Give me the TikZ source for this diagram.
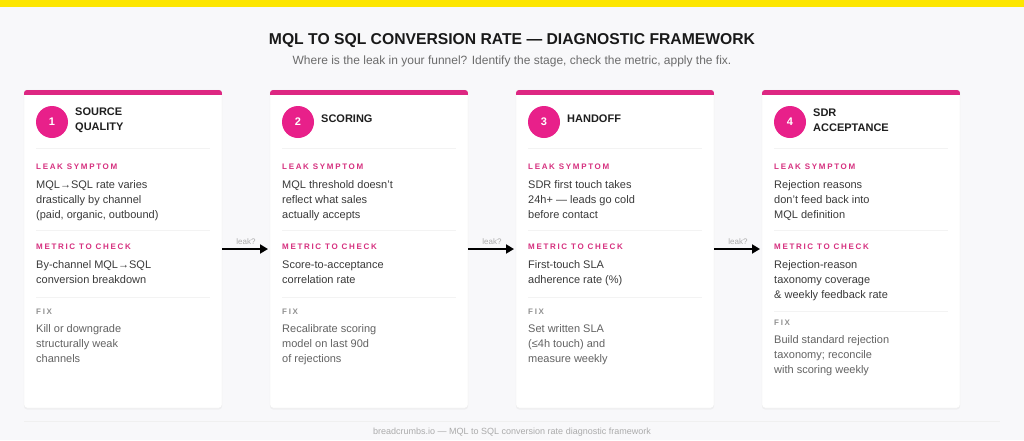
\documentclass[tikz,border=0pt]{standalone}
\usepackage{fontspec}
\setmainfont{Liberation Sans}
\usepackage{tikz}
\usetikzlibrary{arrows.meta}
\usetikzlibrary{shadows}

\definecolor{bandyellow}{HTML}{FDE600}
\definecolor{pagegrey}{HTML}{F8F8FA}
\definecolor{barpink}{HTML}{DD2782}
\definecolor{dotpink}{HTML}{E8208A}
\definecolor{labelpink}{HTML}{D6307F}
\definecolor{bodygrey}{HTML}{3A3A3A}
\definecolor{fixgrey}{HTML}{636363}
\definecolor{fixlabel}{HTML}{919191}
\definecolor{rulegrey}{HTML}{F3F3F3}
\definecolor{notegrey}{HTML}{ABABAB}

\tikzset{
    stagecard/.style={draw=black!7, fill=white, rounded corners=3pt,
        minimum width=198pt, minimum height=318pt, inner sep=0pt, outer sep=0pt,
        drop shadow={opacity=0.07, shadow xshift=0pt, shadow yshift=-1.5pt}},
    stagedot/.style={circle, fill=dotpink, minimum size=32pt, inner sep=0pt,
        text=white, font=\fontsize{11}{13}\selectfont\bfseries},
    stagetitle/.style={anchor=west, align=left, inner sep=0pt, text=black!88,
        font=\fontsize{11}{14.5}\selectfont\bfseries},
    sectlabel/.style={anchor=west, inner sep=0pt, text=labelpink,
        font=\fontsize{8}{10}\selectfont\bfseries\addfontfeature{LetterSpace=21}},
    fixhead/.style={sectlabel, text=fixlabel},
    sectbody/.style={anchor=north west, align=left, inner sep=0pt, text=bodygrey,
        font=\fontsize{11}{15}\selectfont},
    fixbody/.style={sectbody, text=fixgrey},
    sectrule/.style={draw=rulegrey, line width=0.8pt},
    leakarrow/.style={line width=1.8pt, shorten >=2pt, -{Triangle[length=8pt, width=9pt]}},
    leaktag/.style={above=4pt, inner sep=0pt, text=notegrey, font=\fontsize{8}{10}\selectfont},
}

\begin{document}
\begin{tikzpicture}[x=1pt, y=-1pt]
        \useasboundingbox[fill=pagegrey] (0, 0) rectangle (1024, 440);
        \fill[bandyellow] (0, 0) rectangle (1024, 7);

        \node[inner sep=0pt, text=black!90, font=\fontsize{15.7}{18}\selectfont\bfseries] (heading) at (512, 41)
            {MQL TO SQL CONVERSION RATE — DIAGNOSTIC FRAMEWORK};
        \node[inner sep=0pt, text=black!58, font=\fontsize{12}{14}\selectfont] (subheading) at (512, 61.5)
            {Where is the leak in your funnel? Identify the stage, check the metric, apply the fix.};

        % stage 1
        \begin{scope}[shift={(24, 90)}]
            \node[stagecard] (card1) at (99, 159) {};
            \begin{scope}
                \clip[rounded corners=3pt] (0, 0) rectangle (198, 318);
                \fill[barpink] (0, 0) rectangle (198, 5);
            \end{scope}
            \node[stagedot] (dot1) at (28, 32) {1};
            \node[stagetitle] (title1) at (51, 30) {SOURCE\\QUALITY};
            \draw[sectrule] (12, 58) -- (186, 58);
            \node[sectlabel] (leak1) at (12, 77) {LEAK SYMPTOM};
            \node[sectbody] (leaktext1) at (12, 87.5) {\strut MQL→SQL rate varies\\drastically by channel\\(paid, organic, outbound)};
            \draw[sectrule] (12, 140) -- (186, 140);
            \node[sectlabel] (metric1) at (12, 157) {METRIC TO CHECK};
            \node[sectbody] (metrictext1) at (12, 167.5) {\strut By-channel MQL→SQL\\conversion breakdown};
            \draw[sectrule] (12, 207) -- (186, 207);
            \node[fixhead] (fix1) at (12, 222) {FIX};
            \node[fixbody] (fixtext1) at (12, 231.5) {\strut Kill or downgrade\\structurally weak\\channels};
        \end{scope}

        % stage 2
        \begin{scope}[shift={(270, 90)}]
            \node[stagecard] (card2) at (99, 159) {};
            \begin{scope}
                \clip[rounded corners=3pt] (0, 0) rectangle (198, 318);
                \fill[barpink] (0, 0) rectangle (198, 5);
            \end{scope}
            \node[stagedot] (dot2) at (28, 32) {2};
            \node[stagetitle] (title2) at (51, 28.5) {SCORING};
            \draw[sectrule] (12, 58) -- (186, 58);
            \node[sectlabel] (leak2) at (12, 77) {LEAK SYMPTOM};
            \node[sectbody] (leaktext2) at (12, 87.5) {\strut MQL threshold doesn't\\reflect what sales\\actually accepts};
            \draw[sectrule] (12, 140) -- (186, 140);
            \node[sectlabel] (metric2) at (12, 157) {METRIC TO CHECK};
            \node[sectbody] (metrictext2) at (12, 167.5) {\strut Score-to-acceptance\\correlation rate};
            \draw[sectrule] (12, 207) -- (186, 207);
            \node[fixhead] (fix2) at (12, 222) {FIX};
            \node[fixbody] (fixtext2) at (12, 231.5) {\strut Recalibrate scoring\\model on last 90d\\of rejections};
        \end{scope}

        % stage 3
        \begin{scope}[shift={(516, 90)}]
            \node[stagecard] (card3) at (99, 159) {};
            \begin{scope}
                \clip[rounded corners=3pt] (0, 0) rectangle (198, 318);
                \fill[barpink] (0, 0) rectangle (198, 5);
            \end{scope}
            \node[stagedot] (dot3) at (28, 32) {3};
            \node[stagetitle] (title3) at (51, 28.5) {HANDOFF};
            \draw[sectrule] (12, 58) -- (186, 58);
            \node[sectlabel] (leak3) at (12, 77) {LEAK SYMPTOM};
            \node[sectbody] (leaktext3) at (12, 87.5) {\strut SDR first touch takes\\24h+ — leads go cold\\before contact};
            \draw[sectrule] (12, 140) -- (186, 140);
            \node[sectlabel] (metric3) at (12, 157) {METRIC TO CHECK};
            \node[sectbody] (metrictext3) at (12, 167.5) {\strut First-touch SLA\\adherence rate (\%)};
            \draw[sectrule] (12, 207) -- (186, 207);
            \node[fixhead] (fix3) at (12, 222) {FIX};
            \node[fixbody] (fixtext3) at (12, 231.5) {\strut Set written SLA\\(≤4h touch) and\\measure weekly};
        \end{scope}

        % stage 4
        \begin{scope}[shift={(762, 90)}]
            \node[stagecard] (card4) at (99, 159) {};
            \begin{scope}
                \clip[rounded corners=3pt] (0, 0) rectangle (198, 318);
                \fill[barpink] (0, 0) rectangle (198, 5);
            \end{scope}
            \node[stagedot] (dot4) at (28, 32) {4};
            \node[stagetitle] (title4) at (51, 30) {SDR\\ACCEPTANCE};
            \draw[sectrule] (12, 58) -- (186, 58);
            \node[sectlabel] (leak4) at (12, 77) {LEAK SYMPTOM};
            \node[sectbody] (leaktext4) at (12, 87.5) {\strut Rejection reasons\\don't feed back into\\MQL definition};
            \draw[sectrule] (12, 140) -- (186, 140);
            \node[sectlabel] (metric4) at (12, 157) {METRIC TO CHECK};
            \node[sectbody] (metrictext4) at (12, 167.5) {\strut Rejection-reason\\taxonomy coverage\\\& weekly feedback rate};
            \draw[sectrule] (12, 221) -- (186, 221);
            \node[fixhead] (fix4) at (12, 233) {FIX};
            \node[fixbody] (fixtext4) at (12, 242.5) {\strut Build standard rejection\\taxonomy; reconcile\\with scoring weekly};
        \end{scope}

        \draw[leakarrow] (card1.east) -- node[leaktag] (tag1) {leak?} (card2.west);
        \draw[leakarrow] (card2.east) -- node[leaktag] (tag2) {leak?} (card3.west);
        \draw[leakarrow] (card3.east) -- node[leaktag] (tag3) {leak?} (card4.west);

        \draw[draw=black!6, line width=0.8pt] (24, 421) -- (1000, 421);
        \node[inner sep=0pt, text=notegrey, font=\fontsize{9}{11}\selectfont] (footer) at (512, 432)
            {breadcrumbs.io — MQL to SQL conversion rate diagnostic framework};
    \end{tikzpicture}
\end{document}
